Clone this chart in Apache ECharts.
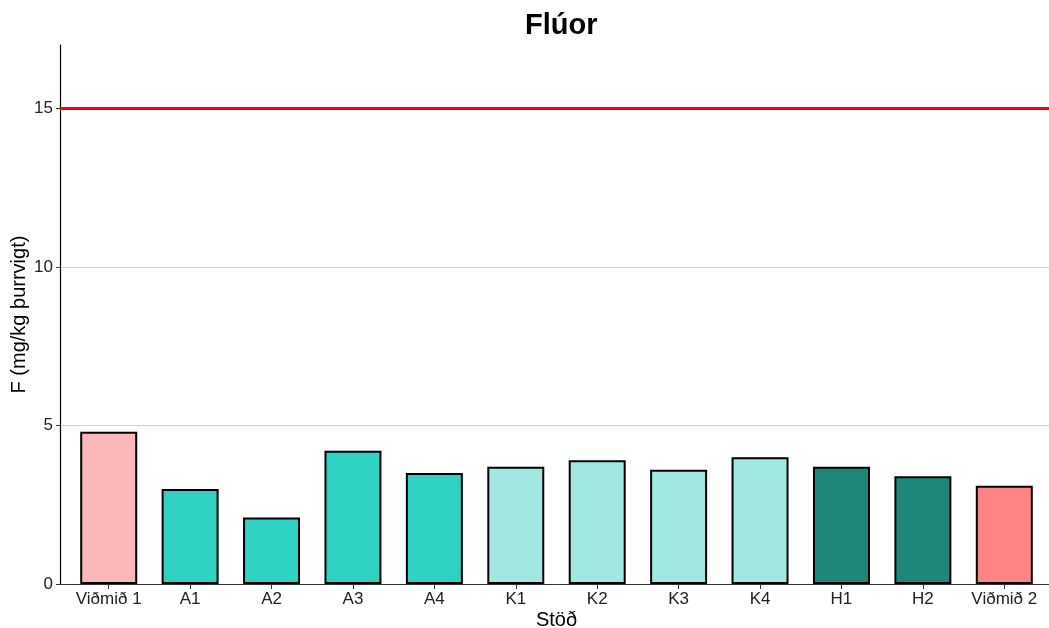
<!DOCTYPE html>
<html>
<head>
<meta charset="utf-8">
<script src="https://cdn.jsdelivr.net/npm/echarts@6/dist/echarts.min.js"></script>
<style>html,body{margin:0;padding:0;background:#fff}#c{width:1049px;height:628px}</style>
</head>
<body>
<div id="c"></div>
<script>
var categories = ['Viðmið 1','A1','A2','A3','A4','K1','K2','K3','K4','H1','H2','Viðmið 2'];
var values = [4.8, 3.0, 2.1, 4.2, 3.5, 3.7, 3.9, 3.6, 4.0, 3.7, 3.4, 3.1];
var groupColors = ['#FBB8B8','#2ED1C2','#2ED1C2','#2ED1C2','#2ED1C2','#A0E8E1','#A0E8E1','#A0E8E1','#A0E8E1','#1E8779','#1E8779','#FF8585'];
var threshold = 15;
var yTicks = [0, 5, 10, 15];

var font = 'Liberation Sans, Arial, sans-serif';
var chart = echarts.init(document.getElementById('c'), null, {renderer:'canvas'});
chart.setOption({
  animation: false,
  backgroundColor: '#fff',
  title: {
    text: 'Flúor', left: 520, top: 6,
    textStyle: {fontFamily: font, fontSize: 29, fontWeight: 'bold', color: '#000'}
  },
  grid: [
    {left: 68, right: 4, top: 45, bottom: 44, containLabel: false, outerBoundsMode: 'none'},
    {left: 60, right: 0, top: 45, bottom: 44, containLabel: false, outerBoundsMode: 'none'}
  ],
  xAxis: [
    {
      type: 'category', gridIndex: 0, data: categories,
      name: 'Stöð', nameLocation: 'middle', nameGap: 26, nameMoveOverlap: false,
      nameTextStyle: {fontFamily: font, fontSize: 20, color: '#000'},
      axisLine: {show: false},
      axisTick: {show: true, alignWithLabel: true, length: 5, lineStyle: {color: '#333'}},
      axisLabel: {fontFamily: font, fontSize: 17, color: '#222', margin: 7, interval: 0},
      splitLine: {show: false}
    },
    {
      type: 'value', gridIndex: 1, min: 0, max: 1,
      axisLine: {show: true, lineStyle: {color: '#333', width: 1}},
      axisTick: {show: false}, axisLabel: {show: false}, splitLine: {show: false}
    }
  ],
  yAxis: [
    {
      type: 'value', gridIndex: 0, min: 0, max: 17,
      show: false, splitLine: {show: false}
    },
    {
      type: 'value', gridIndex: 1, min: 0, max: 17, interval: 5,
      name: 'F (mg/kg þurrvigt)', nameLocation: 'middle', nameGap: 31, nameMoveOverlap: false,
      nameTextStyle: {fontFamily: font, fontSize: 20, color: '#000'},
      axisLine: {show: true, lineStyle: {color: '#000', width: 1.2}},
      axisTick: {show: true, length: 4, customValues: yTicks, lineStyle: {color: '#333'}},
      axisLabel: {fontFamily: font, fontSize: 17, color: '#222', margin: 7, customValues: yTicks},
      splitLine: {show: true, showMaxLine: false, lineStyle: {color: '#d0d0d0', width: 1}}
    }
  ],
  series: [
    {
      type: 'bar', xAxisIndex: 0, yAxisIndex: 0,
      barWidth: '70%',
      data: values.map(function(v, i){
        return {value: v, itemStyle: {color: groupColors[i], borderColor: '#000', borderWidth: 2}};
      }),
      z: 3
    },
    {
      type: 'line', xAxisIndex: 1, yAxisIndex: 1,
      data: [[0, threshold], [1, threshold]],
      symbol: 'none',
      lineStyle: {color: '#FF0000', width: 3},
      z: 4
    }
  ]
});
</script>
</body>
</html>
